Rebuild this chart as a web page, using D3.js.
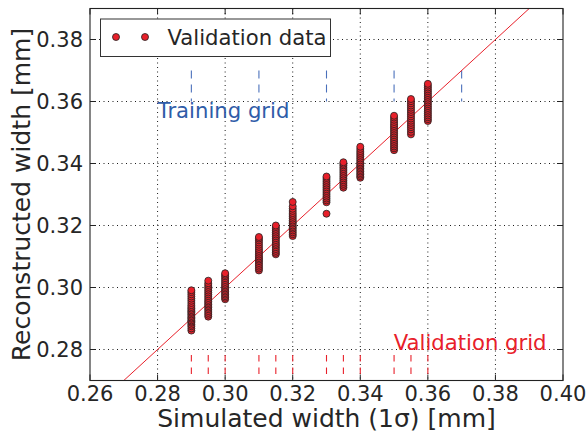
<!DOCTYPE html>
<html>
<head>
<meta charset="utf-8">
<script src="https://cdn.jsdelivr.net/npm/d3@7"></script>
<style>
  body { margin: 0; background: #fff; }
  text { font-family: "DejaVu Sans", sans-serif; fill: #262626; }
</style>
</head>
<body>
<div id="chart"></div>
<script>
// validation grid points (simulated width) and reconstructed widths per point
var simWidths = [0.29, 0.295, 0.30, 0.31, 0.315, 0.32, 0.33, 0.335, 0.34, 0.35, 0.355, 0.36];
var recoWidths = [
  [0.2861, 0.2868, 0.2875, 0.2880, 0.2886, 0.2890, 0.2894, 0.2899, 0.2903, 0.2908, 0.2913, 0.2918, 0.2922, 0.2927, 0.2932, 0.2937, 0.2943, 0.2950, 0.2957, 0.2964, 0.2971, 0.2978, 0.2985, 0.2991],
  [0.2906, 0.2912, 0.2918, 0.2924, 0.2930, 0.2935, 0.2940, 0.2945, 0.2950, 0.2955, 0.2960, 0.2966, 0.2972, 0.2978, 0.2984, 0.2990, 0.2996, 0.3002, 0.3008, 0.3014, 0.3022],
  [0.2962, 0.2967, 0.2972, 0.2977, 0.2982, 0.2987, 0.2992, 0.2997, 0.3002, 0.3007, 0.3012, 0.3018, 0.3024, 0.3030, 0.3036, 0.3041, 0.3046],
  [0.3055, 0.3061, 0.3067, 0.3073, 0.3079, 0.3085, 0.3090, 0.3095, 0.3100, 0.3106, 0.3112, 0.3118, 0.3124, 0.3131, 0.3138, 0.3145, 0.3152, 0.3158, 0.3163],
  [0.3107, 0.3112, 0.3118, 0.3124, 0.3130, 0.3136, 0.3141, 0.3147, 0.3153, 0.3159, 0.3165, 0.3171, 0.3177, 0.3183, 0.3189, 0.3195, 0.3200],
  [0.3166, 0.3172, 0.3178, 0.3184, 0.3190, 0.3195, 0.3200, 0.3206, 0.3211, 0.3216, 0.3222, 0.3228, 0.3234, 0.3240, 0.3247, 0.3254, 0.3262, 0.3276],
  [0.3238, 0.3275, 0.3281, 0.3287, 0.3293, 0.3299, 0.3305, 0.3311, 0.3317, 0.3323, 0.3329, 0.3335, 0.3341, 0.3347, 0.3353, 0.3358],
  [0.3322, 0.3328, 0.3334, 0.3340, 0.3346, 0.3352, 0.3358, 0.3364, 0.3370, 0.3376, 0.3382, 0.3388, 0.3394, 0.3399, 0.3404],
  [0.3354, 0.3359, 0.3364, 0.3369, 0.3374, 0.3379, 0.3384, 0.3389, 0.3394, 0.3399, 0.3404, 0.3410, 0.3416, 0.3422, 0.3428, 0.3434, 0.3440, 0.3447, 0.3454],
  [0.3443, 0.3449, 0.3455, 0.3461, 0.3467, 0.3473, 0.3479, 0.3485, 0.3491, 0.3497, 0.3503, 0.3509, 0.3515, 0.3521, 0.3527, 0.3534, 0.3541, 0.3548, 0.3554],
  [0.3494, 0.3502, 0.3510, 0.3517, 0.3524, 0.3531, 0.3538, 0.3545, 0.3552, 0.3559, 0.3566, 0.3573, 0.3580, 0.3587, 0.3594, 0.3601, 0.3608],
  [0.3537, 0.3543, 0.3549, 0.3555, 0.3561, 0.3567, 0.3573, 0.3579, 0.3585, 0.3591, 0.3597, 0.3603, 0.3609, 0.3615, 0.3621, 0.3627, 0.3633, 0.3639, 0.3645, 0.3651, 0.3657]
];
var trainingGrid = [0.29, 0.31, 0.33, 0.35, 0.37];
var validationGrid = [0.29, 0.295, 0.30, 0.31, 0.315, 0.32, 0.33, 0.335, 0.34, 0.35, 0.355, 0.36];
var xTicks = [0.26, 0.28, 0.30, 0.32, 0.34, 0.36, 0.38, 0.40];
var yTicks = [0.28, 0.30, 0.32, 0.34, 0.36, 0.38];

var svgWidth = 586;
var svgHeight = 437;
var margin = { top: 8.5, right: 23, bottom: 56.5, left: 90 };
var width = svgWidth - margin.left - margin.right;
var height = svgHeight - margin.top - margin.bottom;

var red = "#e8202a";
var blue = "#2f5ca8";

var svg = d3.select("#chart").append("svg")
  .attr("width", svgWidth)
  .attr("height", svgHeight);

svg.append("defs").append("clipPath").attr("id", "clip")
  .append("rect").attr("width", width).attr("height", height);

var g = svg.append("g")
  .attr("transform", `translate(${margin.left}, ${margin.top})`);

var x = d3.scaleLinear().domain([0.26, 0.40]).range([0, width]);
var y = d3.scaleLinear().domain([0.27, 0.39]).range([height, 0]);

// grid lines
g.append("g").selectAll("line").data(xTicks.slice(1, -1)).enter().append("line")
  .attr("x1", d => x(d)).attr("x2", d => x(d))
  .attr("y1", 0).attr("y2", height)
  .attr("stroke", "#000").attr("stroke-width", 0.9).attr("stroke-dasharray", "1,3.5");
g.append("g").selectAll("line").data(yTicks).enter().append("line")
  .attr("y1", d => y(d)).attr("y2", d => y(d))
  .attr("x1", 0).attr("x2", width)
  .attr("stroke", "#000").attr("stroke-width", 0.9).attr("stroke-dasharray", "1,3.5");

var plot = g.append("g").attr("clip-path", "url(#clip)");

// training grid markers
plot.selectAll(".train").data(trainingGrid).enter().append("line")
  .attr("x1", d => x(d)).attr("x2", d => x(d))
  .attr("y1", y(0.37)).attr("y2", y(0.36))
  .attr("stroke", "#4a70bb").attr("stroke-width", 1.1).attr("stroke-dasharray", "8,6");

// validation grid markers
plot.selectAll(".val").data(validationGrid).enter().append("line")
  .attr("x1", d => x(d)).attr("x2", d => x(d))
  .attr("y1", y(0.2782)).attr("y2", y(0.2720))
  .attr("stroke", red).attr("stroke-width", 1.1).attr("stroke-dasharray", "6.5,6");

// y = x line
plot.append("line")
  .attr("x1", x(0.26)).attr("y1", y(0.26))
  .attr("x2", x(0.40)).attr("y2", y(0.40))
  .attr("stroke", red).attr("stroke-width", 1);

// points
var points = [];
simWidths.forEach(function(s, i) {
  recoWidths[i].forEach(function(r) { points.push({ sim: s, reco: r }); });
});
plot.selectAll("circle").data(points).enter().append("circle")
  .attr("cx", d => x(d.sim))
  .attr("cy", d => y(d.reco))
  .attr("r", 3.5)
  .attr("fill", red)
  .attr("stroke", "#222")
  .attr("stroke-width", 0.8);

// frame and inward ticks
g.append("rect").attr("width", width).attr("height", height)
  .attr("fill", "none").attr("stroke", "#222").attr("stroke-width", 1.1);

var tickLen = 6;
xTicks.forEach(function(t) {
  g.append("line").attr("x1", x(t)).attr("x2", x(t)).attr("y1", height).attr("y2", height - tickLen).attr("stroke", "#222");
  g.append("line").attr("x1", x(t)).attr("x2", x(t)).attr("y1", 0).attr("y2", tickLen).attr("stroke", "#222");
});
yTicks.forEach(function(t) {
  g.append("line").attr("y1", y(t)).attr("y2", y(t)).attr("x1", 0).attr("x2", tickLen).attr("stroke", "#222");
  g.append("line").attr("y1", y(t)).attr("y2", y(t)).attr("x1", width).attr("x2", width - tickLen).attr("stroke", "#222");
});

// tick labels
g.selectAll(".xl").data(xTicks).enter().append("text")
  .attr("x", d => x(d)).attr("y", height + 20.5)
  .attr("text-anchor", "middle").attr("font-size", 21)
  .text(d => d.toFixed(2));
g.selectAll(".yl").data(yTicks).enter().append("text")
  .attr("x", -7).attr("y", d => y(d) + 7.5)
  .attr("text-anchor", "end").attr("font-size", 21)
  .text(d => d.toFixed(2));

// axis titles
g.append("text")
  .attr("x", width / 2).attr("y", height + 46.5)
  .attr("text-anchor", "middle").attr("font-size", 25)
  .text("Simulated width (1σ) [mm]");
g.append("text")
  .attr("transform", "rotate(-90)")
  .attr("x", -height / 2).attr("y", -60)
  .attr("text-anchor", "middle").attr("font-size", 25)
  .text("Reconstructed width [mm]");

// annotations
g.append("text")
  .attr("x", x(0.28)).attr("y", y(0.355) + 0.5)
  .attr("font-size", 21.2).style("fill", blue)
  .text("Training grid");
g.append("text")
  .attr("x", x(0.3499)).attr("y", y(0.28))
  .attr("font-size", 21.2).style("fill", red)
  .text("Validation grid");

// legend
var legend = svg.append("g").attr("transform", "translate(100.5, 19)");
legend.append("rect").attr("width", 230).attr("height", 37.5)
  .attr("fill", "#fff").attr("stroke", "#333").attr("stroke-width", 1);
legend.selectAll("circle").data([15.5, 44.5]).enter().append("circle")
  .attr("cx", d => d).attr("cy", 18)
  .attr("r", 3.5).attr("fill", red).attr("stroke", "#222").attr("stroke-width", 0.8);
legend.append("text").attr("x", 67).attr("y", 25.5)
  .attr("font-size", 21.2).text("Validation data");
</script>
</body>
</html>
